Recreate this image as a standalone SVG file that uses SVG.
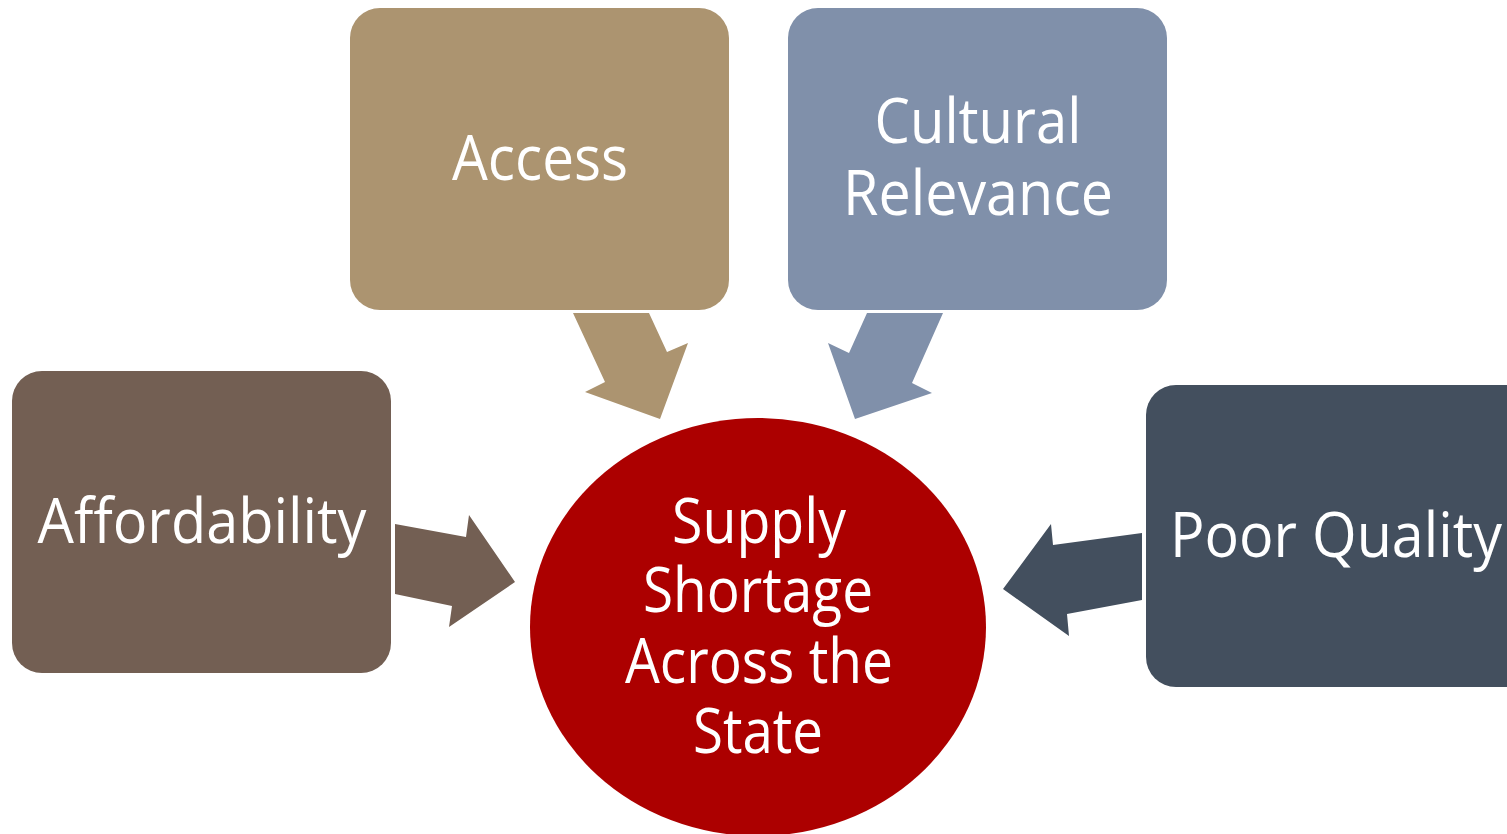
<svg xmlns="http://www.w3.org/2000/svg" width="1507" height="834" viewBox="0 0 1507 834">
  <style>
    .lbl { font-family: "Open Sans", "Liberation Sans", sans-serif; font-size: 62px; fill: #ffffff; text-anchor: middle; }
    .box { stroke: none; }
  </style>
  <rect width="1507" height="834" fill="#ffffff"/>

  <!-- connectors: block arrows pointing into the centre -->
  <g id="connectors">
    <polygon fill="#AC9470" points="573,313 649,313 667,352 688,343 660,419 585,392 605,382"/>
    <polygon fill="#8090AA" points="867,313 943,313 912,383 932,393 855,419 828,343 849,353"/>
    <polygon fill="#735F53" points="395,524 466,537 469,515 515,582 449,627 452,606 395,594"/>
    <polygon fill="#434F5E" points="1142,533 1053,545 1051,524 1003,589 1069,636 1067,614 1142,600"/>
  </g>

  <g id="access">
    <rect class="box" x="350" y="8" width="379" height="302" rx="30" fill="#AC9470"/>
    <text class="lbl" x="540" y="180" textLength="176" lengthAdjust="spacingAndGlyphs">Access</text>
  </g>

  <g id="cultural-relevance">
    <rect class="box" x="788" y="8" width="379" height="302" rx="30" fill="#8090AA"/>
    <text class="lbl" x="978" y="143" textLength="207" lengthAdjust="spacingAndGlyphs">Cultural</text>
    <text class="lbl" x="978" y="215" textLength="270" lengthAdjust="spacingAndGlyphs">Relevance</text>
  </g>

  <g id="affordability">
    <rect class="box" x="12" y="371" width="379" height="302" rx="30" fill="#735F53"/>
    <text class="lbl" x="202" y="543" textLength="329" lengthAdjust="spacingAndGlyphs">Affordability</text>
  </g>

  <g id="poor-quality">
    <rect class="box" x="1146" y="385" width="390" height="302" rx="30" fill="#434F5E"/>
    <text class="lbl" x="1336" y="557" textLength="332" lengthAdjust="spacingAndGlyphs">Poor Quality</text>
  </g>

  <g id="supply-shortage">
    <ellipse cx="758" cy="627" rx="228" ry="209" fill="#AC0000"/>
    <text class="lbl" x="759" y="543" textLength="174" lengthAdjust="spacingAndGlyphs">Supply</text>
    <text class="lbl" x="758" y="612" textLength="230" lengthAdjust="spacingAndGlyphs">Shortage</text>
    <text class="lbl" x="759" y="683" textLength="268" lengthAdjust="spacingAndGlyphs">Across the</text>
    <text class="lbl" x="758" y="753" textLength="130" lengthAdjust="spacingAndGlyphs">State</text>
  </g>
</svg>
